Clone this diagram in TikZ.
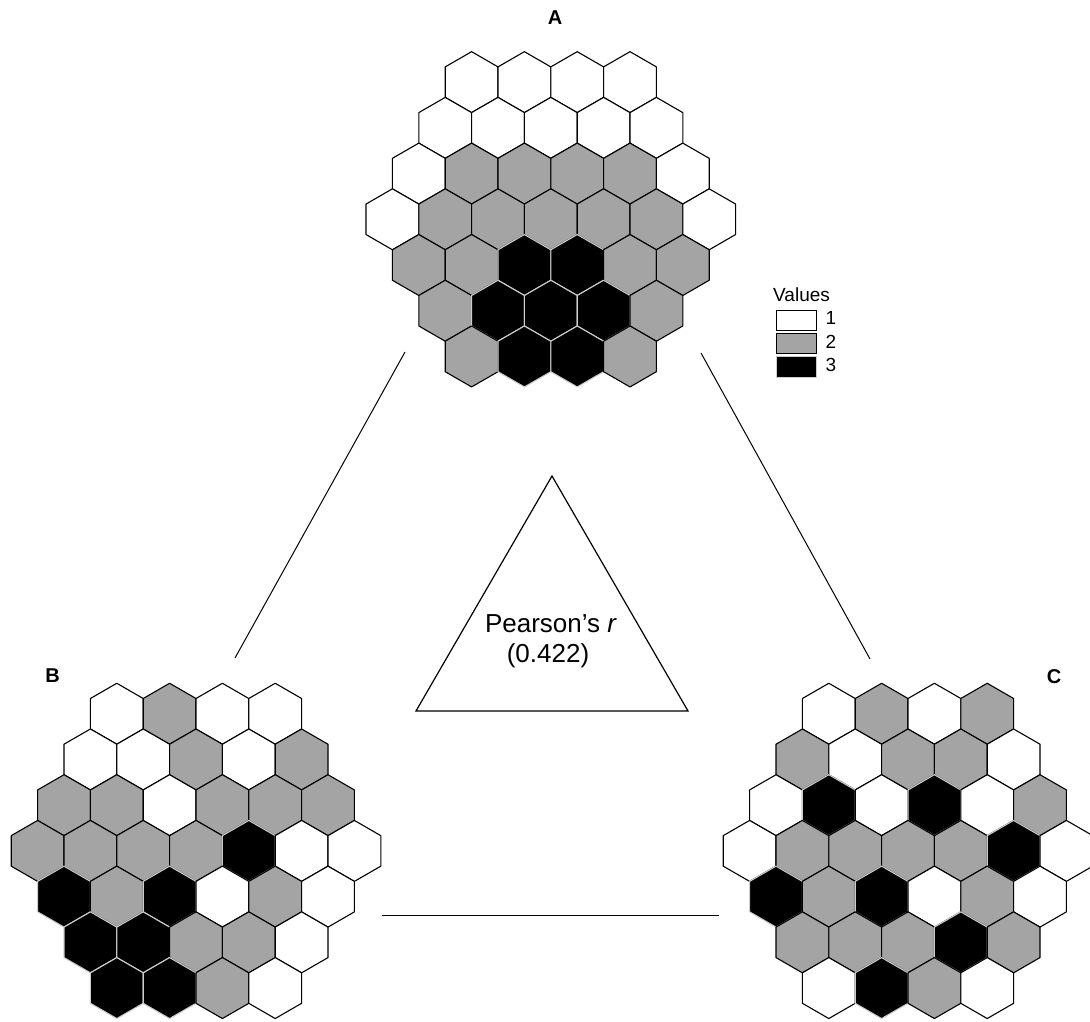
\documentclass[tikz,border=0pt]{standalone}
\usepackage{fontspec}
\setmainfont{Liberation Sans}
\usetikzlibrary{positioning}

\definecolor{valgray}{RGB}{164,164,164}
\definecolor{rimgray}{RGB}{205,205,205}

\newcommand{\hexw}{52.8}
\newcommand{\hexs}{30.48}

% #1,#2 centre of the grid, #3 rows from top to bottom
\newcommand{\hexgrid}[3]{%
  \foreach \cells [count=\rowno from 0] in {#3} {
    \pgfmathsetmacro{\ncells}{7-abs(\rowno-3)}
    \foreach \v [count=\cellno from 0] in \cells {
      \pgfmathsetmacro{\hx}{#1+(\cellno-(\ncells-1)/2)*\hexw}
      \pgfmathsetmacro{\hy}{#2+(\rowno-3)*1.5*\hexs}
      \draw[cell\v] (\hx,\hy) +(90:\hexs) -- +(30:\hexs) -- +(-30:\hexs)
        -- +(-90:\hexs) -- +(-150:\hexs) -- +(150:\hexs) -- cycle;
    }
  }
}

\begin{document}
\begin{tikzpicture}[x=1pt, y=-1pt,
	every node/.style={inner sep=0pt},
	cell1/.style={draw=black, fill=white, line width=1.1pt, line join=round},
	cell2/.style={draw=black, fill=valgray, line width=1.1pt, line join=round},
	cell3/.style={draw=rimgray, fill=black, line width=1.1pt, line join=round},
	lbl/.style={font=\bfseries\fontsize{20}{24}\selectfont, anchor=base},
	lnk/.style={line width=1pt},
	key/.style={draw, line width=0.8pt, minimum width=40pt, minimum height=20.5pt},
	num/.style={font=\fontsize{19}{22}\selectfont}
	]
\useasboundingbox (0,0) rectangle (1090,1022);

\hexgrid{550.8}{219.3}{{1,1,1,1},{1,1,1,1,1},{1,2,2,2,2,1},{1,2,2,2,2,2,1},{2,2,3,3,2,2},{2,3,3,3,2},{2,3,3,2}}
\hexgrid{196}{850.9}{{1,2,1,1},{1,1,2,1,2},{2,2,1,2,2,2},{2,2,2,2,3,1,1},{3,2,3,1,2,1},{3,3,2,2,1},{3,3,2,1}}
\hexgrid{908}{850.9}{{1,2,1,2},{2,1,2,2,1},{1,3,1,3,1,2},{1,2,2,2,2,3,1},{3,2,3,1,2,1},{2,2,2,3,2},{1,3,2,1}}

\node[lbl] (labA) at (555,25) {A};
\node[lbl] (labB) at (52.5,682.7) {B};
\node[lbl] (labC) at (1054,683.3) {C};

\coordinate (ab1) at (405,352);
\coordinate (ab2) at (235,658);
\coordinate (ac1) at (701,353);
\coordinate (ac2) at (870,659);
\coordinate (bc1) at (382,915);
\coordinate (bc2) at (719,915);

\draw[lnk] (ab1) -- (ab2);
\draw[lnk] (ac1) -- (ac2);
\draw[lnk] (bc1) -- (bc2);

\coordinate (top) at (552,476);
\coordinate (left) at (416,711);
\coordinate (right) at (688,711);
\draw[line width=1.2pt, line join=miter] (top) -- (left) -- (right) -- cycle;

\node[font=\fontsize{26}{30}\selectfont, anchor=base] (pearson) at (551,632) {Pearson’s \textit{r}};
\node[font=\fontsize{26}{30}\selectfont, anchor=base] (coef) at (548,662) {(0.422)};

\node[num, anchor=base west] (values) at (773,301) {Values};
\node[key, fill=white] (k1) at (796,320.2) {};
\node[key, fill=valgray] (k2) at (796,343.5) {};
\node[key, fill=black, draw=rimgray] (k3) at (796,366.8) {};
\node[num, right=9pt of k1, yshift=2pt] (n1) {1};
\node[num, right=9pt of k2, yshift=2pt] (n2) {2};
\node[num, right=9pt of k3, yshift=2pt] (n3) {3};

\end{tikzpicture}
\end{document}
